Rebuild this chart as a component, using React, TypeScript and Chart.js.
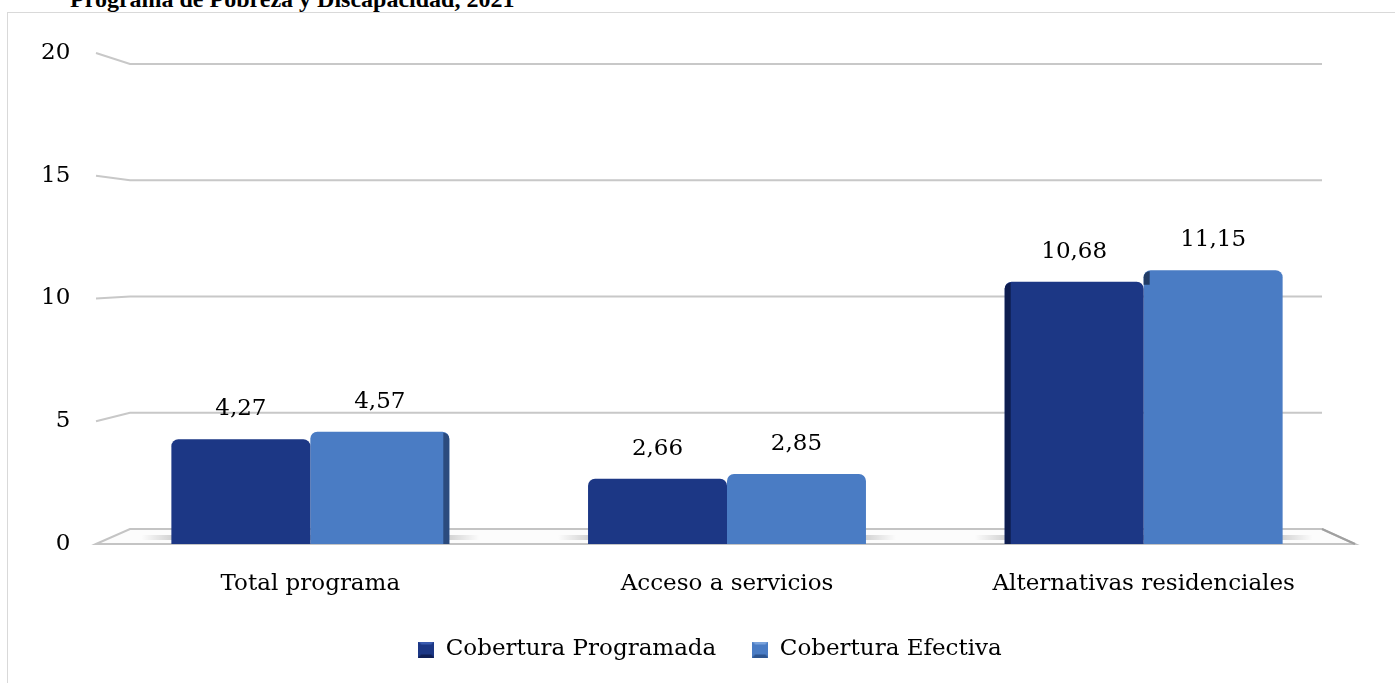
import React, { useEffect, useRef } from 'react';
import { Chart, registerables } from 'chart.js';

Chart.register(...registerables);

const title = 'Programa de Pobreza y Discapacidad, 2021';
const categories = ['Total programa', 'Acceso a servicios', 'Alternativas residenciales'];
const seriesNames = ['Cobertura Programada', 'Cobertura Efectiva'];
const programada = [4.27, 2.66, 10.68];
const efectiva = [4.57, 2.85, 11.15];
const yTicks = [0, 5, 10, 15, 20];

const FONT = '"DejaVu Serif", serif';
const DARK = '#1c3785';
const LIGHT = '#4a7cc4';

const fmt = (v: number) => v.toFixed(2).replace('.', ',');

function makeIcon(base: string, hi: string, lo: string) {
  const c = document.createElement('canvas');
  c.width = 16;
  c.height = 16;
  const g = c.getContext('2d')!;
  g.fillStyle = base;
  g.fillRect(0, 0, 16, 16);
  g.fillStyle = hi;
  g.beginPath();
  g.moveTo(0, 0);
  g.lineTo(16, 0);
  g.lineTo(8, 8);
  g.closePath();
  g.fill();
  g.fillStyle = lo;
  g.beginPath();
  g.moveTo(0, 16);
  g.lineTo(16, 16);
  g.lineTo(8, 8);
  g.closePath();
  g.fill();
  g.fillStyle = base;
  g.fillRect(3, 3, 10, 10);
  return c;
}

const floorGridPlugin = {
  id: 'floorGrid',
  beforeDatasetsDraw(chart: any) {
    const { ctx, chartArea, scales } = chart;
    const { left, right, bottom } = chartArea;
    const y = scales.y;
    const L = left - 6;
    const R = right + 3;
    const depth = 15;
    const bl = L + 34;
    const br = R - 33;
    const k = 464 / 490;
    const backY = (fy: number) => bottom - depth + (fy - bottom) * k;
    ctx.save();
    ctx.lineWidth = 2;
    ctx.strokeStyle = '#c8c8c8';
    yTicks.forEach((v) => {
      if (v === 0) return;
      const fy = y.getPixelForValue(v);
      const by = backY(fy);
      ctx.beginPath();
      ctx.moveTo(L, fy);
      ctx.lineTo(bl, by);
      ctx.lineTo(br, by);
      ctx.stroke();
    });
    // floor
    ctx.beginPath();
    ctx.moveTo(L, bottom);
    ctx.lineTo(bl, bottom - depth);
    ctx.lineTo(br, bottom - depth);
    ctx.lineTo(R, bottom);
    ctx.closePath();
    ctx.fillStyle = '#fcfcfc';
    ctx.fill();
    ctx.strokeStyle = '#c4c4c4';
    ctx.stroke();
    ctx.strokeStyle = '#a0a0a0';
    ctx.beginPath();
    ctx.moveTo(br, bottom - depth);
    ctx.lineTo(R, bottom);
    ctx.stroke();
    // soft shadows under bars
    const m0 = chart.getDatasetMeta(0);
    const m1 = chart.getDatasetMeta(1);
    m0.data.forEach((d: any, i: number) => {
      const l = d.x - d.width / 2;
      const e = m1.data[i];
      const r = e.x + e.width / 2;
      const g = ctx.createLinearGradient(l - 30, 0, r + 30, 0);
      g.addColorStop(0, 'rgba(0,0,0,0)');
      g.addColorStop(0.12, 'rgba(0,0,0,0.22)');
      g.addColorStop(0.88, 'rgba(0,0,0,0.22)');
      g.addColorStop(1, 'rgba(0,0,0,0)');
      ctx.fillStyle = g;
      ctx.fillRect(l - 30, bottom - 9, r - l + 60, 5);
    });
    ctx.restore();
  },
};

const facesLabelsPlugin = {
  id: 'facesLabels',
  afterDatasetsDraw(chart: any) {
    const { ctx, chartArea } = chart;
    const center = (chartArea.left + chartArea.right) / 2;
    const half = (chartArea.right - chartArea.left) / 2;
    const m0 = chart.getDatasetMeta(0);
    const m1 = chart.getDatasetMeta(1);
    ctx.save();
    m0.data.forEach((d: any, i: number) => {
      const e = m1.data[i];
      const dl = d.x - d.width / 2;
      const ll = e.x - e.width / 2;
      const lr = e.x + e.width / 2;
      const cx = (dl + lr) / 2;
      const off = (cx - center) / half;
      const w = Math.round(Math.abs(off) * 9);
      if (off < -0.1) {
        ctx.fillStyle = '#2b4b7e';
        ctx.beginPath();
        ctx.roundRect(lr - w, e.y + 1, w, e.base - e.y - 1, [0, 6, 0, 0]);
        ctx.fill();
      } else if (off > 0.1) {
        ctx.fillStyle = '#0e1d4f';
        ctx.beginPath();
        ctx.roundRect(dl, d.y + 1, w, d.base - d.y - 1, [6, 0, 0, 0]);
        ctx.fill();
        if (d.y - e.y > 2) {
          ctx.fillStyle = '#223c66';
          ctx.beginPath();
          ctx.roundRect(ll, e.y + 1, w, d.y - e.y + 2, [6, 0, 0, 0]);
          ctx.fill();
        }
      }
    });
    ctx.font = `23px ${FONT}`;
    ctx.fillStyle = '#000';
    ctx.textAlign = 'center';
    ctx.textBaseline = 'middle';
    [m0, m1].forEach((m: any, di: number) => {
      const vals = di === 0 ? programada : efectiva;
      m.data.forEach((el: any, i: number) => {
        ctx.fillText(fmt(vals[i]), el.x, el.y - 30);
      });
    });
    ctx.restore();
  },
};

export default function App() {
  const ref = useRef<HTMLCanvasElement>(null);

  useEffect(() => {
    if (!ref.current) return;
    const icons = [makeIcon(DARK, '#3a5bb0', '#0f1f55'), makeIcon(LIGHT, '#7aa3dc', '#2d5590')];
    const chart = new Chart(ref.current, {
      type: 'bar',
      data: {
        labels: categories,
        datasets: [
          {
            label: seriesNames[0],
            data: programada,
            backgroundColor: DARK,
            borderRadius: 7,
            categoryPercentage: 0.667,
            barPercentage: 1,
          },
          {
            label: seriesNames[1],
            data: efectiva,
            backgroundColor: LIGHT,
            borderRadius: 7,
            categoryPercentage: 0.667,
            barPercentage: 1,
          },
        ],
      },
      options: {
        responsive: false,
        animation: false,
        events: [],
        layout: { padding: { left: 68, right: 43, top: 53, bottom: 12 } },
        scales: {
          x: {
            grid: { display: false },
            border: { display: false },
            ticks: { font: { family: FONT, size: 23 }, color: '#000', padding: 18 },
            afterFit: (s: any) => {
              s.height = 58;
            },
          },
          y: {
            min: 0,
            max: 20,
            grid: { display: false },
            border: { display: false },
            ticks: {
              stepSize: 5,
              mirror: true,
              crossAlign: 'far',
              padding: -61,
              font: { family: FONT, size: 23 },
              color: '#000',
            },
            afterFit: (s: any) => {
              s.width = 34;
            },
          },
        },
        plugins: {
          legend: {
            position: 'bottom',
            labels: {
              usePointStyle: true,
              boxWidth: 16,
              boxHeight: 16,
              padding: 36,
              color: '#000',
              font: { family: FONT, size: 23 },
              generateLabels: (c: any) => {
                const items = Chart.defaults.plugins.legend.labels.generateLabels(c);
                return items.map((it: any, i: number) => ({ ...it, pointStyle: icons[i] }));
              },
            },
          },
          tooltip: { enabled: false },
        },
      },
      plugins: [floorGridPlugin, facesLabelsPlugin],
    });
    return () => chart.destroy();
  }, []);

  return (
    <div
      style={{
        position: 'fixed',
        left: 0,
        top: 0,
        width: 1395,
        height: 683,
        overflow: 'hidden',
        background: '#fff',
      }}
    >
      <div
        style={{
          position: 'absolute',
          left: 7,
          top: 12,
          width: 1600,
          height: 900,
          border: '1.5px solid #d9d9d9',
        }}
      />
      <div
        style={{
          position: 'absolute',
          left: 70,
          top: -13,
          font: 'bold 24px "Liberation Serif", serif',
          lineHeight: '24px',
          whiteSpace: 'nowrap',
          color: '#000',
        }}
      >
        {title}
      </div>
      <canvas
        ref={ref}
        width={1395}
        height={683}
        style={{ position: 'absolute', left: 0, top: 0, width: 1395, height: 683 }}
      />
    </div>
  );
}
